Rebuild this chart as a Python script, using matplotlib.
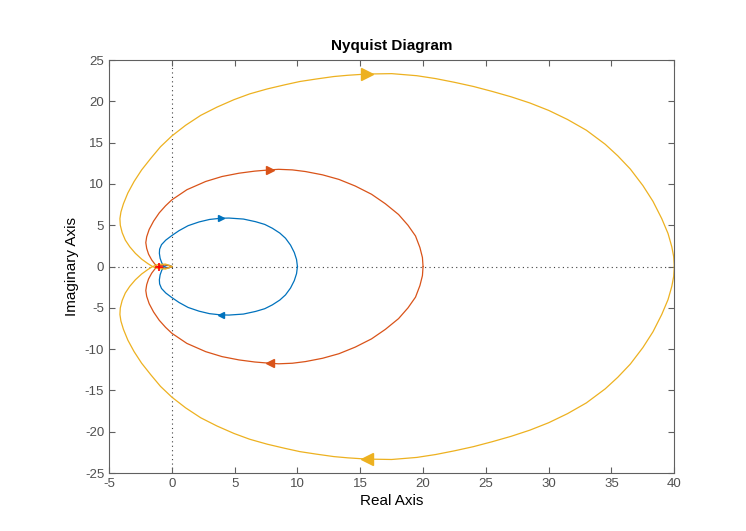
import numpy as np
import matplotlib.pyplot as plt

plt.rcParams['font.family'] = ['Liberation Sans', 'DejaVu Sans']
plt.rcParams['axes.unicode_minus'] = False

# upper branch of each curve (origin -> top -> w=0 point)
blue_x = [0.0, -0.2, -0.45, -0.63, -0.8, -0.93, -0.99, -0.97, -0.82, -0.48, 0.0,
          0.58, 1.3, 2.17, 3.0, 3.9, 4.55, 5.7, 6.67, 7.4, 8.0, 8.6, 9.05,
          9.45, 9.75, 9.93, 10.0]
blue_y = [0.0, -0.15, -0.12, 0.0, 0.45, 1.0, 1.6, 2.1, 2.65, 3.2, 3.75,
          4.35, 4.95, 5.4, 5.7, 5.85, 5.87, 5.75, 5.43, 5.1, 4.64, 4.05, 3.43,
          2.6, 1.7, 0.85, 0.0]

red_x = [0.0, -0.4, -0.85, -1.14, -1.35, -1.6, -1.85, -2.0, -2.07, -2.0, -1.8,
         -1.45, -1.0, -0.5, 0.0, 1.2, 2.7, 4.0, 5.35, 6.6, 7.8, 8.5, 9.6,
         10.64, 12.0, 13.3, 14.6, 15.9, 17.0, 18.05, 18.8, 19.4, 19.75, 19.95, 20.0]
red_y = [0.0, -0.2, -0.15, 0.0, 0.3, 0.8, 1.5, 2.2, 2.9, 3.6, 4.5,
         5.5, 6.5, 7.35, 8.07, 9.3, 10.3, 10.9, 11.3, 11.55, 11.7, 11.77, 11.7,
         11.5, 11.1, 10.55, 9.75, 8.75, 7.6, 6.3, 5.0, 3.7, 2.3, 1.1, 0.0]

yellow_x = [0.0, -0.5, -1.1, -1.53, -1.9, -2.4, -2.9, -3.35, -3.7, -3.95, -4.1,
            -4.13, -4.05, -3.85, -3.5, -3.0, -2.4, -1.67, -0.9, 0.0, 1.1, 2.3,
            3.6, 4.95, 6.2, 7.6, 9.0, 10.2, 11.5, 12.9, 14.0, 15.5, 17.5, 19.5,
            21.0, 22.5, 24.0, 25.5, 27.0, 28.5, 30.0, 31.5, 33.0, 34.5, 35.5,
            36.5, 37.5, 38.3, 39.0, 39.5, 39.8, 39.95, 40.0]
yellow_y = [0.0, -0.3, -0.25, 0.0, 0.35, 0.9, 1.6, 2.4, 3.2, 4.1, 5.0,
            5.8, 6.6, 7.6, 8.9, 10.3, 11.7, 13.1, 14.5, 15.8, 17.1, 18.3,
            19.3, 20.2, 20.9, 21.5, 22.0, 22.4, 22.7, 23.0, 23.15, 23.3, 23.35, 23.1,
            22.75, 22.3, 21.8, 21.2, 20.55, 19.8, 18.9, 17.8, 16.5, 14.8, 13.4,
            11.8, 9.8, 7.9, 5.8, 4.0, 2.4, 1.2, 0.0]

# arrow positions (upper branch)
arrow_x = [3.9, 7.8, 15.5]
arrow_y = [5.85, 11.7, 23.3]
arrow_size = [4, 5.5, 8]

colors = ['#0072BD', '#D95319', '#EDB120']
curves = [(blue_x, blue_y), (red_x, red_y), (yellow_x, yellow_y)]

fig = plt.figure(figsize=(7.46, 5.31), dpi=100)
ax = fig.add_axes([0.1461, 0.109, 0.7578, 0.778])

ax.axhline(0, color='0.25', ls=(0, (1, 3)), lw=0.8, zorder=1)
ax.axvline(0, color='0.25', ls=(0, (1, 3)), lw=0.8, zorder=1)

for (cx, cy), c, axx, ayy, ms in zip(curves, colors, arrow_x, arrow_y, arrow_size):
    cx = np.array(cx)
    cy = np.array(cy)
    ax.plot(cx, cy, color=c, lw=0.9, zorder=2)
    ax.plot(cx, -cy, color=c, lw=0.9, zorder=2)
    ax.plot([axx], [ayy], marker='>', color=c, ms=ms, mec=c, zorder=3)
    ax.plot([axx], [-ayy], marker='<', color=c, ms=ms, mec=c, zorder=3)

# critical point
ax.plot([-1], [0], marker='+', color='r', ms=6, mew=1.2, zorder=4)

ax.set_xlim(-5, 40)
ax.set_ylim(-25, 25)
ax.set_xticks(np.arange(-5, 41, 5))
ax.set_yticks(np.arange(-25, 26, 5))

for s in ax.spines.values():
    s.set_color('#606060')
    s.set_linewidth(0.8)
ax.tick_params(direction='in', length=4, width=0.8, color='#606060',
               labelcolor='#505050', labelsize=9.5, top=True, right=True)

ax.set_title('Nyquist Diagram', fontsize=11, fontweight='bold', pad=7)
ax.set_xlabel('Real Axis', fontsize=11, labelpad=3)
ax.set_ylabel('Imaginary Axis', fontsize=11, labelpad=4)

fig.savefig('out.png', dpi=100)
